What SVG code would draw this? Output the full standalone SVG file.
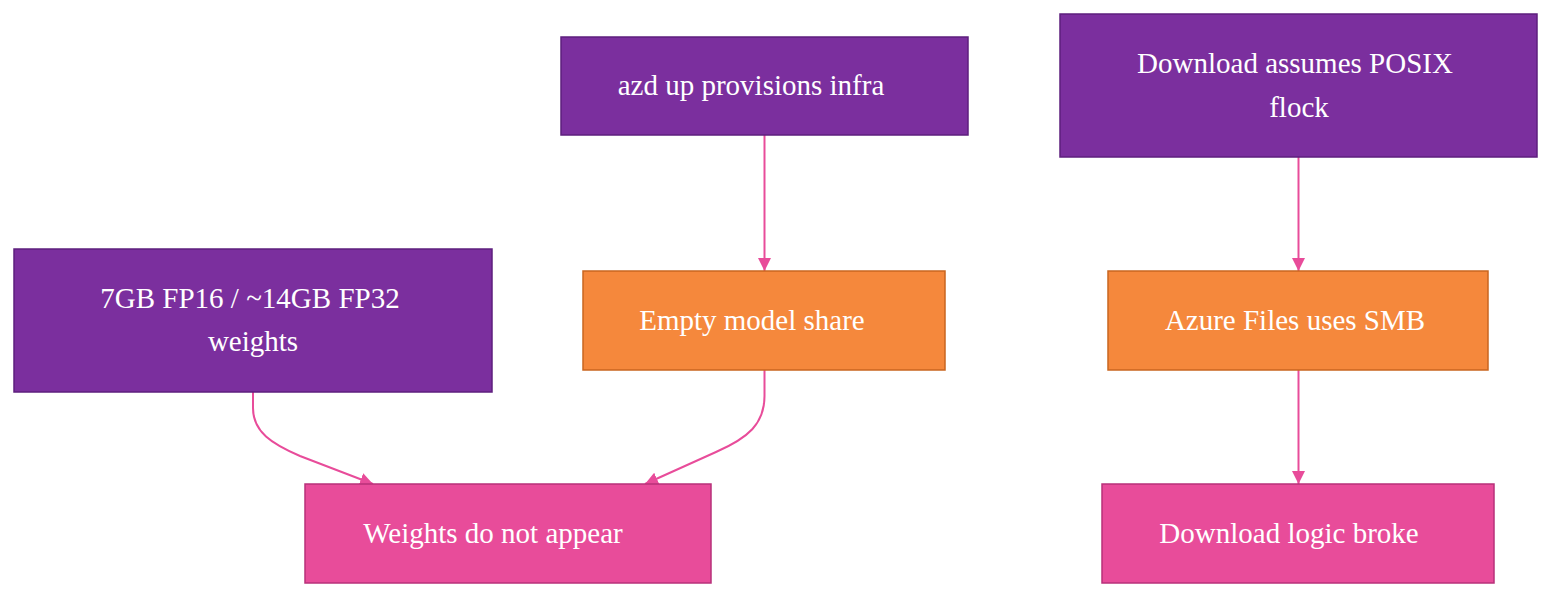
<svg xmlns="http://www.w3.org/2000/svg" width="1568" height="606" viewBox="0 0 1568 606">
<style>
.purple{fill:#7b2f9e;stroke:#5e1f7e;stroke-width:1.5}
.orange{fill:#f5883c;stroke:#c9651f;stroke-width:1.5}
.pink{fill:#e84c9a;stroke:#b8317a;stroke-width:1.5}
.lbl{font-family:"Liberation Serif","Times New Roman",serif;font-size:29px;fill:#ffffff;text-anchor:middle}
.edge{fill:none;stroke:#e84c9a;stroke-width:2}
</style>
<defs>
<marker id="arr" viewBox="0 0 10 10" refX="10" refY="5" markerUnits="userSpaceOnUse" markerWidth="13" markerHeight="14" orient="auto">
<path d="M0,0 L10,5 L0,10 z" fill="#e84c9a"/>
</marker>
</defs>
<g id="connectors">
<path class="edge" d="M764.5,135 V271" marker-end="url(#arr)"/>
<path class="edge" d="M1298.5,157 V271" marker-end="url(#arr)"/>
<path class="edge" d="M1298.5,370 V484" marker-end="url(#arr)"/>
<path class="edge" d="M253,392 V408 C253,432 272,444 300,456 L373,484" marker-end="url(#arr)"/>
<path class="edge" d="M764.5,370 V396 C764.5,424 748,438 716,452 L645,484" marker-end="url(#arr)"/>
</g>
<g id="nodeA">
<rect class="purple" x="561" y="37" width="407" height="98"/>
<text class="lbl" x="751" y="95">azd up provisions infra</text>
</g>
<g id="nodeB">
<rect class="purple" x="1060" y="14" width="477" height="143"/>
<text class="lbl" x="1295" y="73">Download assumes POSIX</text>
<text class="lbl" x="1299" y="117">flock</text>
</g>
<g id="nodeC">
<rect class="purple" x="14" y="249" width="478" height="143"/>
<text class="lbl" x="250" y="308">7GB FP16 / ~14GB FP32</text>
<text class="lbl" x="253" y="351">weights</text>
</g>
<g id="nodeD">
<rect class="orange" x="583" y="271" width="362" height="99"/>
<text class="lbl" x="752" y="330">Empty model share</text>
</g>
<g id="nodeE">
<rect class="orange" x="1108" y="271" width="380" height="99"/>
<text class="lbl" x="1295" y="330">Azure Files uses SMB</text>
</g>
<g id="nodeF">
<rect class="pink" x="305" y="484" width="406" height="99"/>
<text class="lbl" x="493" y="543">Weights do not appear</text>
</g>
<g id="nodeG">
<rect class="pink" x="1102" y="484" width="392" height="99"/>
<text class="lbl" x="1289" y="543">Download logic broke</text>
</g>
</svg>
